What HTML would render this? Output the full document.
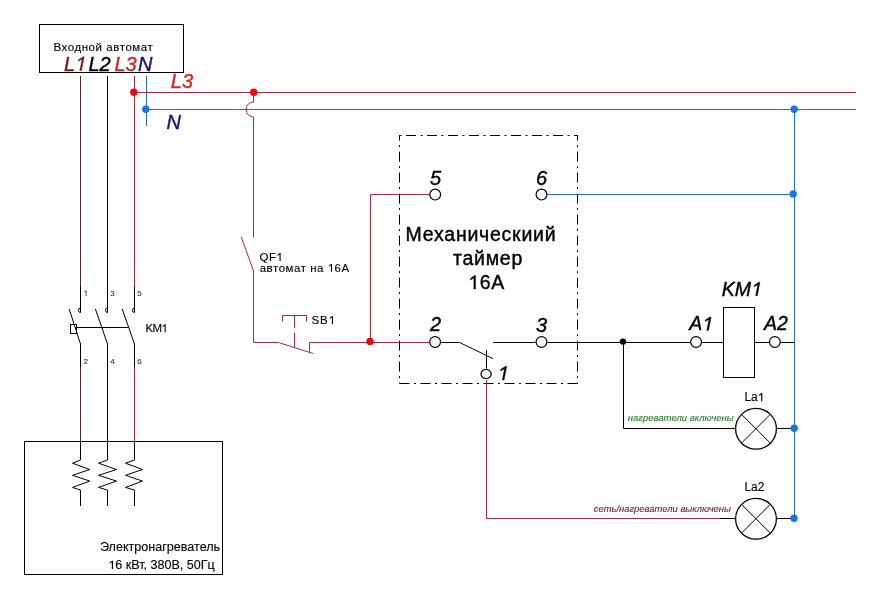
<!DOCTYPE html>
<html><head><meta charset="utf-8"><title>Схема</title>
<style>
html,body{margin:0;padding:0;background:#fff;}
body{width:878px;height:598px;overflow:hidden;}
svg{display:block;will-change:transform;}
text{font-family:"Liberation Sans",sans-serif;}
.i{font-style:italic;}
.h{fill-opacity:0;stroke-opacity:0;}
</style></head>
<body>
<svg width="878" height="598" viewBox="0 0 878 598">
<rect x="0" y="0" width="878" height="598" fill="#fff"/>
<g fill="none" stroke-width="1" shape-rendering="crispEdges">
  <!-- input breaker box -->
  <rect x="39.5" y="24.5" width="144" height="48" stroke="#000"/>
  <!-- heater box -->
  <rect x="24.5" y="441.5" width="198" height="133" stroke="#000"/>
</g>

<g fill="none" stroke-width="1">
  <!-- L1 -->
  <path d="M80.5 76V286" stroke="#4a2626"/>
  <path d="M80.5 286V312.5" stroke="#000"/>
  <!-- L2 -->
  <path d="M107.5 76V312.5" stroke="#000"/>
  <!-- L3 -->
  <path d="M134.5 76V286" stroke="#943038"/>
  <path d="M134.5 286V312.5" stroke="#000"/>
  <!-- N -->
  <path d="M146.5 76V126" stroke="#2c72ac"/>

  <!-- contact hooks -->
  <path d="M80.5 308 a2 2.2 0 0 0 0 4.5" stroke="#000"/>
  <path d="M107.5 308 a2 2.2 0 0 0 0 4.5" stroke="#000"/>
  <path d="M134.5 308 a2 2.2 0 0 0 0 4.5" stroke="#000"/>
  <!-- blades -->
  <path d="M69.2 309L80.5 344V367" stroke="#000"/>
  <path d="M95.4 309L107.5 344V441" stroke="#000"/>
  <path d="M122.2 309L134.5 344V367" stroke="#000"/>
  <path d="M80.5 367V441" stroke="#4a2626"/>
  <path d="M134.5 367V441" stroke="#943038"/>
  <!-- mechanical link -->
  <path d="M75.5 327.5H128.2" stroke="#000"/>
  <rect x="70.5" y="324.5" width="6" height="9" stroke="#000"/>

  <!-- heaters -->
  <path d="M80.5 441.5V460L72.5 463.2L89.8 469.5L72.5 475.3L89.8 481.1L72.5 487.4L80.5 490.1V506" stroke="#000"/>
  <path d="M107.5 441.5V460L98.5 463.2L116.5 469.5L98.5 475.3L116.5 481.1L98.5 487.4L107.5 490.1V506" stroke="#000"/>
  <path d="M134.5 441.5V460L125.5 463.2L142.5 469.5L125.5 475.3L142.5 481.1L125.5 487.4L134.5 490.1V506" stroke="#000"/>

  <!-- L3 bus and N bus -->
  <path d="M134.5 92.5H856" stroke="#9a303a"/>
  <path d="M146.5 109.5H856" stroke="#2c72ac"/>

  <!-- QF1 branch -->
  <path d="M253.5 92.5V102A7.5 7.5 0 0 0 253.5 117V237.5" stroke="#9a303a"/>
  <path d="M241.2 236.7L253.5 271V342.5H278.5L313 353.5" stroke="#9a303a"/>
  <path d="M309.5 353V342.5H429.5" stroke="#9a303a"/>
  <path d="M370.5 342.5V194.5H429.5" stroke="#9a303a"/>
  <!-- SB1 button -->
  <path d="M282.5 321.5V315.5H306.5V321.5" stroke="#9a303a"/>
  <path d="M294.5 315.5V328M294.5 332.7V348" stroke="#9a303a"/>

  <!-- timer dash-dot box -->
  <g stroke="#000" stroke-dasharray="10 4.5 2 4.5">
    <path d="M399.5 135.5H577.5" stroke-dashoffset="14.5"/>
    <path d="M399.5 383.5H577.5" stroke-dashoffset="0"/>
    <path d="M399.5 135V383.5" stroke-dashoffset="4.4"/>
    <path d="M577.5 135V383.5" stroke-dashoffset="4.4"/>
  </g>

  <!-- blue from 6 -->
  <path d="M547.5 194.5H794.5" stroke="#2c72ac"/>
  <path d="M794.5 109.5V518.5" stroke="#2c72ac"/>

  <!-- switch -->
  <path d="M441 342.5H459.5L493 358.6" stroke="#000"/>
  <path d="M486.5 350.2V368.7" stroke="#000"/>
  <path d="M493 342.5H535.5" stroke="#000"/>
  <path d="M547.5 342.5H690.2" stroke="#000"/>
  <path d="M702.2 342.5H723.5" stroke="#000"/>
  <path d="M754.5 342.5H769" stroke="#000"/>
  <path d="M781 342.5H794.5" stroke="#000"/>
  <rect x="723.5" y="307.5" width="31" height="70" stroke="#000"/>

  <!-- lamp branch 1 -->
  <path d="M623.5 342.5V428.5H735.6" stroke="#000"/>
  <path d="M776.4 428.5H794.5" stroke="#000"/>
  <!-- lamp branch 2 -->
  <path d="M486.5 380V518.5H720" stroke="#9a303a"/>
  <path d="M720 518.5H735.6" stroke="#000"/>
  <path d="M776.4 518.5H794.5" stroke="#000"/>

  <!-- terminals -->
  <g stroke="#000" stroke-width="1.2" fill="#fff">
    <circle cx="435.2" cy="194.6" r="5.4"/>
    <circle cx="541.5" cy="194.6" r="5.4"/>
    <circle cx="435.1" cy="342" r="5.4"/>
    <circle cx="541.5" cy="342" r="5.4"/>
    <ellipse cx="486.1" cy="374" rx="5.1" ry="4.5"/>
    <circle cx="696.1" cy="342" r="5.4"/>
    <circle cx="774.9" cy="342" r="5.4"/>
  </g>
  <!-- lamps -->
  <g stroke="#000" fill="none">
    <circle cx="756" cy="428.8" r="20.4" stroke-width="1.3"/>
    <path d="M741.8 414.6L770 442.8M770 414.6L741.8 442.8"/>
    <circle cx="756" cy="518.8" r="20.4" stroke-width="1.3"/>
    <path d="M741.8 504.6L770 532.8M770 504.6L741.8 532.8"/>
  </g>
</g>

<!-- dots -->
<g>
  <circle cx="133.8" cy="92.2" r="3.7" fill="#e80c0c"/>
  <circle cx="253.7" cy="92.2" r="3.7" fill="#e80c0c"/>
  <circle cx="370" cy="341.4" r="3.7" fill="#e80c0c"/>
  <circle cx="145.8" cy="109.2" r="3.7" fill="#1478e0"/>
  <circle cx="794.2" cy="109.3" r="3.7" fill="#1478e0"/>
  <circle cx="793.2" cy="193.9" r="3.7" fill="#1478e0"/>
  <circle cx="794.2" cy="428.2" r="3.7" fill="#1478e0"/>
  <circle cx="794" cy="518.2" r="3.7" fill="#1478e0"/>
  <circle cx="623" cy="341.6" r="3.2" fill="#000"/>
</g>

<!-- text -->
<g fill="#000" stroke="#000" stroke-width="0.4">
  <text id="t1" x="53.4" textLength="99.4" lengthAdjust="spacing" y="51" font-size="11.5" stroke-width="0.12">Входной автомат</text>
  <text id="t2" x="64" y="70.5" font-size="20" class="i" fill="#7a1818" stroke="#7a1818">L<tspan class="h">1</tspan></text>
  <text id="t3" x="88.5" y="70.5" font-size="20" class="i" fill="#000" stroke="#000">L2</text>
  <text id="t4" x="114.5" y="70.5" font-size="20" class="i" fill="#cc2a2a" stroke="#cc2a2a">L3</text>
  <text id="t5" x="138" y="70.5" font-size="20" class="i" fill="#1a1470" stroke="#1a1470">N</text>
  <text id="t6" x="170.8" y="87.5" font-size="20" class="i" fill="#cc2a2a" stroke="#cc2a2a">L3</text>
  <text id="t7" x="166.6" y="129" font-size="20" class="i" fill="#1a1470" stroke="#1a1470">N</text>

  <text id="t8" x="259.6" textLength="23.1" lengthAdjust="spacing" y="261" font-size="11.5" stroke-width="0.12">QF<tspan class="h">1</tspan></text>
  <text id="t9" x="259.7" textLength="89.5" lengthAdjust="spacing" y="271.8" font-size="11.5" stroke-width="0.12">автомат на <tspan class="h">1</tspan>6А</text>
  <text id="t10" x="311.5" textLength="23.6" lengthAdjust="spacing" y="324" font-size="11.5" stroke-width="0.12">SB<tspan class="h">1</tspan></text>
  <text id="t11" x="145.6" textLength="22.2" lengthAdjust="spacing" y="332.2" font-size="11.5" stroke-width="0.12">KM<tspan class="h">1</tspan></text>

  <text id="t12" x="83.5" y="296" font-size="8" fill="#333" stroke="#333" stroke-width="0.12"><tspan class="h">1</tspan></text>
  <text id="t13" x="110.2" y="296" font-size="8" fill="#333" stroke="#333" stroke-width="0.12">3</text>
  <text id="t14" x="137.2" y="296" font-size="8" fill="#333" stroke="#333" stroke-width="0.12">5</text>
  <text id="t15" x="83.5" y="364.2" font-size="8" fill="#333" stroke="#333" stroke-width="0.12">2</text>
  <text id="t16" x="110.2" y="364.2" font-size="8" fill="#333" stroke="#333" stroke-width="0.12">4</text>
  <text id="t17" x="137.2" y="364.2" font-size="8" fill="#333" stroke="#333" stroke-width="0.12">6</text>

  <text id="t18" x="100.0" textLength="120.1" lengthAdjust="spacingAndGlyphs" y="551.3" font-size="12" stroke-width="0.12">Электронагреватель</text>
  <text id="t19" x="108.3" textLength="106.4" lengthAdjust="spacingAndGlyphs" y="569.0" font-size="12" stroke-width="0.12"><tspan class="h">1</tspan>6 кВт, 380В, 50Гц</text>

  <text id="t20" x="405.6" textLength="150.0" lengthAdjust="spacing" y="241.1" font-size="19.5">Механическиий</text>
  <text id="t21" x="453.0" textLength="69.3" lengthAdjust="spacing" y="265" font-size="19.5">таймер</text>
  <text id="t22" x="468.3" textLength="35.9" lengthAdjust="spacing" y="289" font-size="19.5"><tspan class="h">1</tspan>6А</text>

  <text id="t23" x="430" y="185.1" font-size="20" class="i">5</text>
  <text id="t24" x="536" y="185.1" font-size="20" class="i">6</text>
  <text id="t25" x="430" y="330.6" font-size="20" class="i">2</text>
  <text id="t26" x="536" y="331.8" font-size="20" class="i">3</text>
  <text id="t27" x="497.6" y="380.1" font-size="20" class="i"><tspan class="h">1</tspan></text>

  <text id="t28" x="721.8" y="295.7" font-size="19.5" class="i">KM<tspan class="h">1</tspan></text>
  <text id="t29" x="689.2" y="330.4" font-size="19.5" class="i">A<tspan class="h">1</tspan></text>
  <text id="t30" x="764" y="330.4" font-size="19.5" class="i">A2</text>

  <text id="t31" x="744.4" y="401.3" font-size="12" stroke-width="0.12">La<tspan class="h">1</tspan></text>
  <text id="t32" x="744.4" y="491.4" font-size="12" stroke-width="0.12">La2</text>

  <text id="t33" x="627.8" y="421.2" font-size="9.5" class="i" fill="#2a7e2a" stroke="#2a7e2a" stroke-width="0.12">нагреватели включены</text>
  <text id="t34" x="593.8" textLength="137.1" lengthAdjust="spacingAndGlyphs" y="512.1" font-size="9.5" class="i" fill="#7c1a28" stroke="#7c1a28" stroke-width="0.12">сеть/нагреватели выключены</text>
</g>
<g id="ones">
<path d="M480.3 0L702.9 1145L301.1 935L334.1 1105L811.2 1409H934.2L660.3 0Z" transform="translate(75.12 70.50) scale(0.00977 -0.00977)" fill="#7a1818" stroke="#7a1818" stroke-width="0.4" vector-effect="non-scaling-stroke"/>
<path d="M583 0V1145L222 935V1105L640 1409H763V0Z" transform="translate(276.29 261.00) scale(0.00562 -0.00562)" fill="#000" stroke="#000" stroke-width="0.12" vector-effect="non-scaling-stroke"/>
<path d="M583 0V1145L222 935V1105L640 1409H763V0Z" transform="translate(327.69 271.80) scale(0.00562 -0.00562)" fill="#000" stroke="#000" stroke-width="0.12" vector-effect="non-scaling-stroke"/>
<path d="M583 0V1145L222 935V1105L640 1409H763V0Z" transform="translate(328.69 324.00) scale(0.00562 -0.00562)" fill="#000" stroke="#000" stroke-width="0.12" vector-effect="non-scaling-stroke"/>
<path d="M583 0V1145L222 935V1105L640 1409H763V0Z" transform="translate(161.39 332.20) scale(0.00562 -0.00562)" fill="#000" stroke="#000" stroke-width="0.12" vector-effect="non-scaling-stroke"/>
<path d="M583 0V1145L222 935V1105L640 1409H763V0Z" transform="translate(83.50 296.00) scale(0.00391 -0.00391)" fill="#333" stroke="#333" stroke-width="0.12" vector-effect="non-scaling-stroke"/>
<path d="M583 0V1145L222 935V1105L640 1409H763V0Z" transform="translate(108.30 569.00) scale(0.00614 -0.00586)" fill="#000" stroke="#000" stroke-width="0.12" vector-effect="non-scaling-stroke"/>
<path d="M583 0V1145L222 935V1105L640 1409H763V0Z" transform="translate(468.30 289.00) scale(0.00953 -0.00952)" fill="#000" stroke="#000" stroke-width="0.4" vector-effect="non-scaling-stroke"/>
<path d="M480.3 0L702.9 1145L301.1 935L334.1 1105L811.2 1409H934.2L660.3 0Z" transform="translate(497.60 380.10) scale(0.00977 -0.00977)" fill="#000" stroke="#000" stroke-width="0.4" vector-effect="non-scaling-stroke"/>
<path d="M480.3 0L702.9 1145L301.1 935L334.1 1105L811.2 1409H934.2L660.3 0Z" transform="translate(751.05 295.70) scale(0.00953 -0.00952)" fill="#000" stroke="#000" stroke-width="0.4" vector-effect="non-scaling-stroke"/>
<path d="M480.3 0L702.9 1145L301.1 935L334.1 1105L811.2 1409H934.2L660.3 0Z" transform="translate(702.22 330.40) scale(0.00953 -0.00952)" fill="#000" stroke="#000" stroke-width="0.4" vector-effect="non-scaling-stroke"/>
<path d="M583 0V1145L222 935V1105L640 1409H763V0Z" transform="translate(757.76 401.30) scale(0.00587 -0.00586)" fill="#000" stroke="#000" stroke-width="0.12" vector-effect="non-scaling-stroke"/>
</g>
</svg>
</body></html>
